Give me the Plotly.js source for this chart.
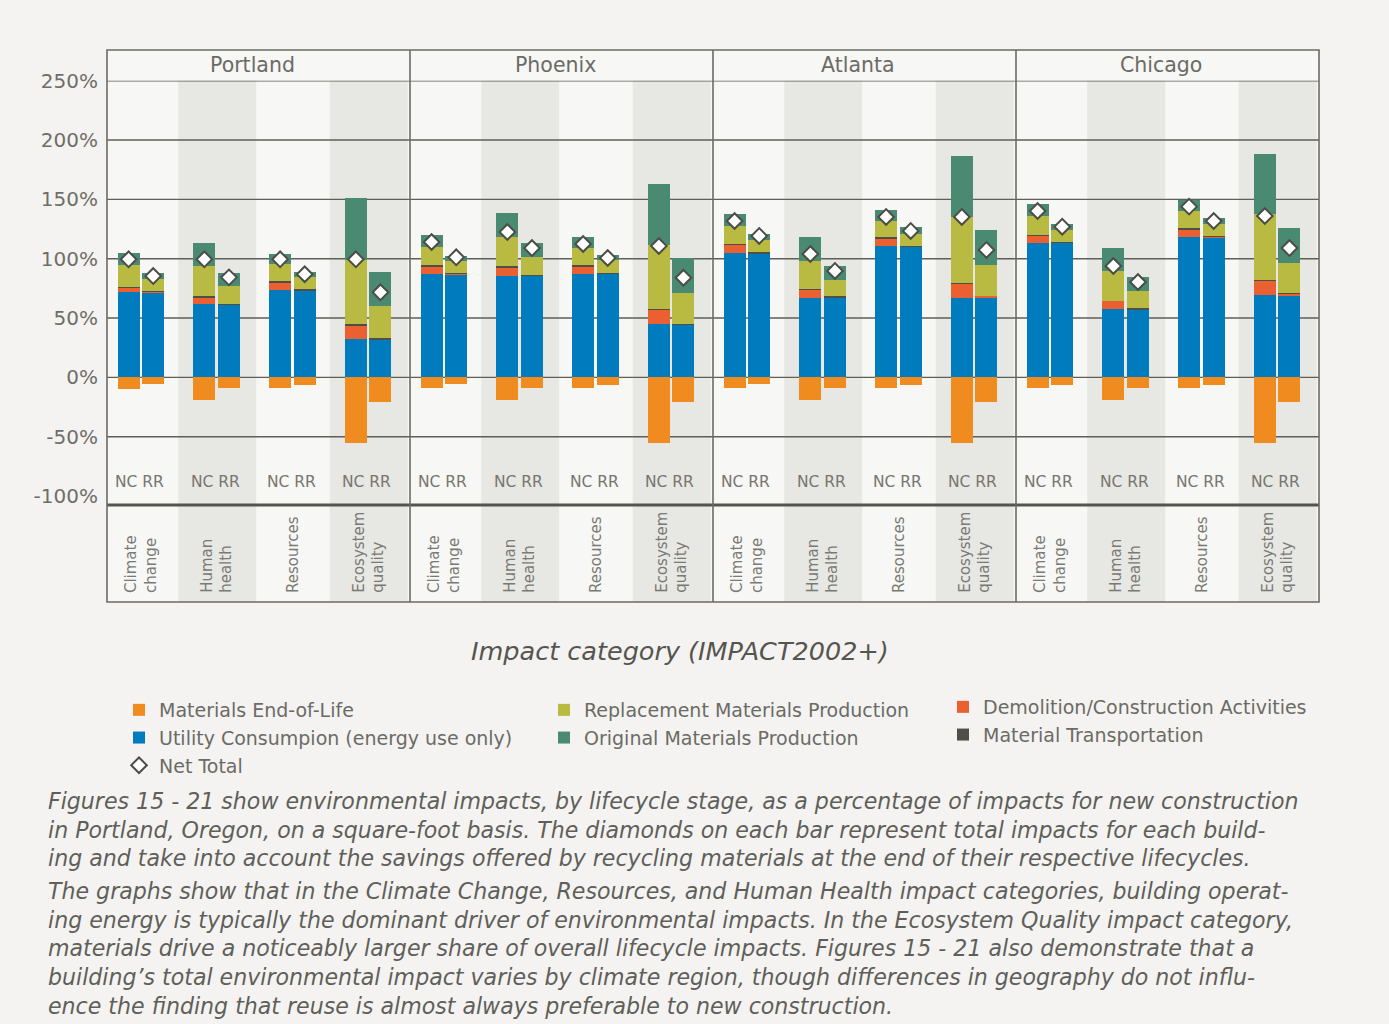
<!DOCTYPE html>
<html>
<head>
<meta charset="utf-8">
<script src="https://cdn.plot.ly/plotly-3.0.1.min.js"></script>
<style>html,body{margin:0;padding:0;background:#f4f3f1;}</style>
</head>
<body>
<div id="chart" style="width:1389px;height:1024px;"></div>
<script>
// ---- Data (order: city -> impact category -> scenario NC, RR) ----
const cities = ['Portland', 'Phoenix', 'Atlanta', 'Chicago'];
const categories = ['Climate<br>change', 'Human<br>health', 'Resources', 'Ecosystem<br>quality'];
const scenarios = ['NC', 'RR'];

const endOfLife   = [-9.5,-5.5, -18.8,-8.6, -8.6,-6.4, -55,-20.4,
                     -8.6,-5.3, -18.8,-8.6, -8.6,-6.4, -55,-20.4,
                     -8.6,-5.3, -18.8,-8.6, -8.6,-6.4, -55,-20.4,
                     -8.6,-6.4, -18.8,-8.6, -8.6,-6.4, -55,-20.4];
const utility     = [72,71.5, 61.5,61, 74,73.2, 32,31.3,
                     87.4,86.6, 85.8,85.8, 87.4,87.4, 44.7,43.9,
                     105,104.2, 66.5,66.5, 110.9,110, 67.3,67.3,
                     113.4,113.4, 57.3,56.4, 118.4,117.6, 69.8,69];
const demolition  = [3.5,0.3, 5.6,0, 5.9,0, 11,0,
                     5.9,0.8, 6.7,0, 5.9,0, 11.7,0,
                     6.7,0, 7.5,0, 5.9,0, 11.7,0.9,
                     5.9,0, 6.7,0, 5.9,0.8, 11.8,1.7];
const transport   = [0.8,0.6, 1.7,0.8, 1.7,1.7, 1.7,1.7,
                     1.7,0.9, 1.6,0.8, 1.7,0.9, 0.9,0.8,
                     0.5,1.7, 0.9,1.7, 1.6,0.9, 0.9,0.8,
                     0.8,0.8, 0.8,1.7, 1.7,0.9, 0.8,0.8];
const replacement = [18.5,10.3, 25,15.6, 14.2,10, 54.5,26.8,
                     15,10, 24.3,15.1, 14.2,10.9, 54.4,26.8,
                     15.1,10, 23.4,14.2, 13.4,10, 55.3,26,
                     15.9,10.1, 25.1,15.1, 14.2,10, 55.3,25.1];
const original    = [10,5, 19.5,11, 8.4,4.2, 51.6,29.3,
                     10.1,4.2, 20.1,11.7, 9.2,4.2, 51.1,29.3,
                     10.1,5, 20.1,11.7, 9.3,5.9, 51.1,29.3,
                     10.1,5, 19.3,11.7, 9.2,5.1, 50.3,29.4];
const netTotal    = [99.5,85.4, 99.5,84.3, 99.5,86.9, 99.5,71.7,
                     114.1,101.2, 122.5,109.0, 112.4,100.6, 110.7,84.0,
                     131.8,119.2, 104.0,89.7, 135.2,123.4, 135.2,107.4,
                     140.2,127.0, 93.9,80.4, 143.9,131.8, 136.0,109.0];

const yTickVals = [250, 200, 150, 100, 50, 0, -50, -100];
const gridVals  = [250, 200, 150, 100, 50, 0, -50];

const captionParagraphs = [
  ['Figures 15 - 21 show environmental impacts, by lifecycle stage, as a percentage of impacts for new construction',
   'in Portland, Oregon, on a square-foot basis. The diamonds on each bar represent total impacts for each build-',
   'ing and take into account the savings offered by recycling materials at the end of their respective lifecycles.'],
  ['The graphs show that in the Climate Change, Resources, and Human Health impact categories, building operat-',
   'ing energy is typically the dominant driver of environmental impacts. In the Ecosystem Quality impact category,',
   'materials drive a noticeably larger share of overall lifecycle impacts. Figures 15 - 21 also demonstrate that a',
   'building’s total environmental impact varies by climate region, though differences in geography do not influ-',
   'ence the finding that reuse is almost always preferable to new construction.']
];
const captionCenterY = [829.5, 948];

// ---- Layout helpers ----
const FONT = '"DejaVu Sans", "Open Sans", sans-serif';
const W = 1389, H = 1024;
const M = {l: 107, r: 70, t: 50, b: 422};
const plotW = W - M.l - M.r;           // 1212
const plotH = H - M.t - M.b;           // 552
const py = Y => (H - M.b - Y) / plotH; // pixel -> paper y
const px = X => (X - M.l) / plotW;     // pixel -> paper x
const yDom = [py(505), py(80.7)];

const nCat = cities.length * categories.length;
const xPos = [];
for (let c = 0; c < cities.length; c++)
  for (let j = 0; j < categories.length; j++)
    for (let s = 0; s < scenarios.length; s++)
      xPos.push(c * categories.length + j + 0.5 + (s === 0 ? -0.215 : 0.11));

const BW = 0.29;
function barTrace(name, vals, color, legend) {
  return {type: 'bar', name: name, x: xPos, y: vals, width: BW, legend: legend,
          marker: {color: color, line: {width: 0}}, hoverinfo: 'y+name'};
}

const traces = [
  barTrace('Materials End-of-Life', endOfLife, '#f08b1f', 'legend'),
  barTrace('Utility Consumpion (energy use only)', utility, '#007bbd', 'legend'),
  barTrace('Demolition/Construction Activities', demolition, '#eb6030', 'legend3'),
  barTrace('Material Transportation', transport, '#4f4f48', 'legend3'),
  barTrace('Replacement Materials Production', replacement, '#b8ba42', 'legend2'),
  barTrace('Original Materials Production', original, '#4a8a72', 'legend2'),
  {type: 'scatter', mode: 'markers', name: 'Net Total', x: xPos, y: netTotal, legend: 'legend',
   marker: {symbol: 'diamond', size: 12, color: '#ffffff', line: {color: '#4d4d47', width: 2}},
   cliponaxis: false}
];

const shapes = [];
shapes.push({type: 'rect', xref: 'paper', yref: 'paper', x0: 0, x1: 1, y0: 0, y1: 1,
             fillcolor: '#f7f7f5', line: {width: 0}, layer: 'below'});
for (let k = 0; k < nCat; k++) {
  if (k % 2 === 1) {
    shapes.push({type: 'rect', xref: 'x', yref: 'paper', x0: k - 0.06, x1: k + 0.97, y0: 0, y1: yDom[1],
                 fillcolor: '#e7e7e3', line: {width: 0}, layer: 'below'});
  }
}
gridVals.forEach(v => shapes.push({type: 'line', xref: 'paper', yref: 'y', x0: 0, x1: 1, y0: v, y1: v,
  line: {color: '#5f5f59', width: 1.4}, layer: 'below'}));
shapes.push({type: 'line', xref: 'paper', yref: 'paper', x0: 0, x1: 1, y0: yDom[0], y1: yDom[0],
             line: {color: '#55554f', width: 3}, layer: 'above'});
for (let c = 1; c < cities.length; c++) {
  const xc = c * categories.length;
  shapes.push({type: 'line', xref: 'x', yref: 'paper', x0: xc, x1: xc, y0: 0, y1: 1,
               line: {color: '#6b6b63', width: 1.6}, layer: 'above'});
}
shapes.push({type: 'rect', xref: 'paper', yref: 'paper', x0: 0, x1: 1, y0: 0, y1: 1,
             line: {color: '#6b6b63', width: 1.6}, fillcolor: 'rgba(0,0,0,0)', layer: 'above'});

const annotations = [];
cities.forEach((city, c) => annotations.push({
  text: city, xref: 'x', yref: 'paper', x: c * categories.length + categories.length / 2 - 0.08, y: py(65.5),
  showarrow: false, xanchor: 'center', yanchor: 'middle',
  font: {family: FONT, size: 20.5, color: '#6b6b65'}}));
for (let k = 0; k < nCat; k++) {
  annotations.push({text: scenarios.join(' '), xref: 'x', yref: 'paper', x: k + 0.43, y: py(482),
    showarrow: false, xanchor: 'center', yanchor: 'middle',
    font: {family: FONT, size: 15.5, color: '#76766f'}});
  annotations.push({text: categories[k % categories.length], xref: 'x', yref: 'paper', x: k + 0.45, y: py(595),
    showarrow: false, textangle: -90, xanchor: 'center', yanchor: 'bottom', align: 'left',
    font: {family: FONT, size: 15, color: '#7a7a74'}});
}
annotations.push({text: 'Impact category (IMPACT2002+)', xref: 'paper', yref: 'paper',
  x: px(680), y: py(651), showarrow: false, xanchor: 'center', yanchor: 'middle',
  font: {family: FONT, size: 25.5, color: '#55554f', style: 'italic'}});
captionParagraphs.forEach((lines, i) => annotations.push({text: lines.join('<br>'), xref: 'paper', yref: 'paper',
  x: px(46), y: py(captionCenterY[i]), showarrow: false, xanchor: 'left', yanchor: 'middle', align: 'left',
  font: {family: FONT, size: 22.1, color: '#5f5f5a', style: 'italic'}}));

const legendBase = {bgcolor: 'rgba(0,0,0,0)', orientation: 'v', traceorder: 'normal', xanchor: 'left', yanchor: 'top',
                    font: {family: FONT, size: 19, color: '#6b6b65'}};

const layout = {
  width: W, height: H,
  margin: M,
  paper_bgcolor: '#f4f3f1',
  plot_bgcolor: 'rgba(0,0,0,0)',
  barmode: 'relative',
  bargap: 0,
  showlegend: true,
  legend:  Object.assign({}, legendBase, {x: px(119), y: py(691)}),
  legend2: Object.assign({}, legendBase, {x: px(544), y: py(691)}),
  legend3: Object.assign({}, legendBase, {x: px(943), y: py(688)}),
  xaxis: {range: [0, nCat], showgrid: false, zeroline: false, showticklabels: false, ticks: '', fixedrange: true},
  yaxis: {domain: yDom, range: [-107.5, 250], showgrid: false, zeroline: false,
          tickmode: 'array', tickvals: yTickVals, ticktext: yTickVals.map(v => v + '%'),
          ticks: '', ticklabelstandoff: 8,
          tickfont: {family: FONT, size: 20, color: '#6e6e68'}, fixedrange: true},
  shapes: shapes,
  annotations: annotations
};

Plotly.newPlot('chart', traces, layout, {displayModeBar: false, staticPlot: true});
</script>
</body>
</html>
